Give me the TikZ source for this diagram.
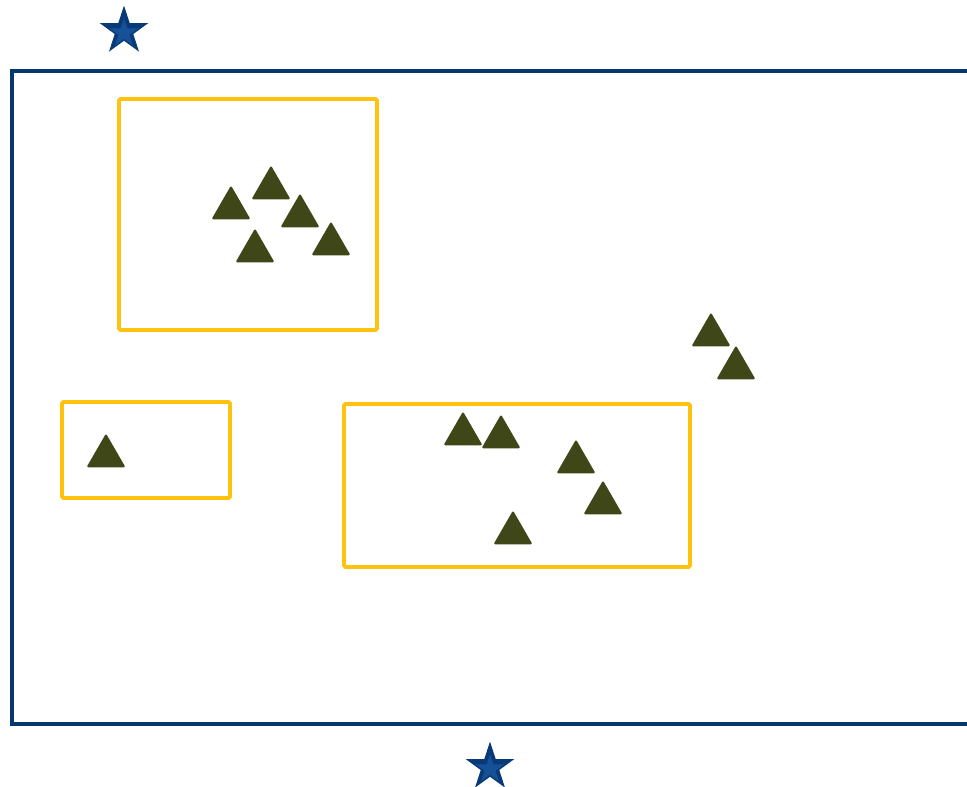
\documentclass[tikz,border=0pt]{standalone}
\usetikzlibrary{shapes.geometric}
\definecolor{navy}{RGB}{5,54,110}
\definecolor{starout}{RGB}{8,58,120}
\definecolor{starin}{RGB}{22,80,150}
\definecolor{gold}{RGB}{255,194,14}
\definecolor{olive}{RGB}{63,71,25}
\tikzset{
  tri/.style={regular polygon, regular polygon sides=3, minimum size=41pt, inner sep=0pt,
    fill=olive, draw=olive, line width=2pt, line join=round},
  bigstar/.style={star, star points=5, star point ratio=2.618, minimum size=51pt, inner sep=0pt,
    fill=starout, draw=none},
  smallstar/.style={star, star points=5, star point ratio=2.618, minimum size=30pt, inner sep=0pt,
    fill=starin, draw=none},
  goldbox/.style={draw=gold, line width=3.8pt, rounded corners=1.5pt},
  outerbox/.style={draw=navy, line width=3.6pt}
}
\begin{document}
\begin{tikzpicture}[x=1pt,y=-1pt]
\useasboundingbox (0,0) rectangle (967,787);
\clip (0,0) rectangle (967,787);
\draw[outerbox] (990,71) -- (12,71) -- (12,724) -- (990,724);
\draw[goldbox] (119,99) rectangle (377,330);
\draw[goldbox] (62,402) rectangle (230,498);
\draw[goldbox] (344,404) rectangle (690,567);
\node[bigstar] (s1) at (124,31) {};
\node[smallstar] (s1i) at (124,33) {};
\node[bigstar] (s2) at (490,767) {};
\node[smallstar] (s2i) at (490,769) {};
\node[tri] (t1) at (231,208) {};
\node[tri] (t2) at (271,188) {};
\node[tri] (t3) at (300,216) {};
\node[tri] (t4) at (255,251) {};
\node[tri] (t5) at (331,244) {};
\node[tri] (t6) at (711,335) {};
\node[tri] (t7) at (736,368) {};
\node[tri] (t8) at (106,456) {};
\node[tri] (t9) at (463,434) {};
\node[tri] (t10) at (501,437) {};
\node[tri] (t11) at (576,462) {};
\node[tri] (t12) at (603,503) {};
\node[tri] (t13) at (513,533) {};
\end{tikzpicture}
\end{document}
